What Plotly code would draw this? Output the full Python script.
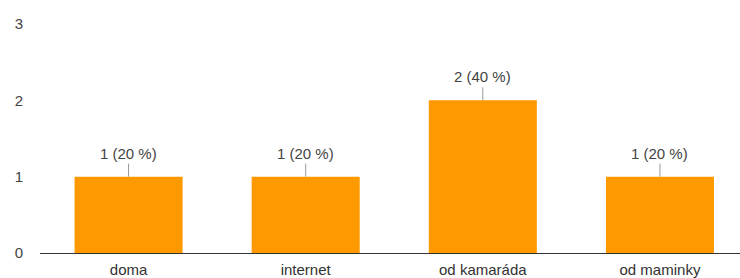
import plotly.graph_objects as go

categories = ["doma", "internet", "od kamaráda", "od maminky"]
counts = [1, 1, 2, 1]
percents = [20, 20, 40, 20]
y_ticks = [0, 1, 2, 3]

labels = [f"{c} ({p} %)" for c, p in zip(counts, percents)]

FONT = "Arial, Liberation Sans, sans-serif"

fig = go.Figure()
fig.add_trace(go.Bar(
    x=categories, y=counts, width=0.61,
    marker=dict(color="#ff9900", line=dict(width=0)),
    hoverinfo="skip",
))

for c, v, t in zip(categories, counts, labels):
    fig.add_annotation(
        x=c, y=v, xref="x", yref="y", text=t,
        showarrow=True, arrowhead=0, arrowwidth=1, arrowcolor="#999999",
        ax=0, ay=-13, standoff=0, startstandoff=0,
        font=dict(family=FONT, size=15, color="#444444"),
        yanchor="bottom",
    )

fig.update_layout(
    width=740, height=278,
    margin=dict(l=40, r=0, t=24, b=25),
    paper_bgcolor="white", plot_bgcolor="white",
    showlegend=False,
    font=dict(family=FONT, size=15, color="#444444"),
    xaxis=dict(
        range=[-0.5, 3.452], showgrid=False, zeroline=False,
        showline=True, linecolor="#333333", linewidth=1,
        ticks="", ticklabelstandoff=3,
        tickfont=dict(size=15, color="#333333"),
    ),
    yaxis=dict(
        range=[0, 3], tickvals=y_ticks, showgrid=False, zeroline=False,
        showline=False, ticks="", ticklabelstandoff=16,
        tickfont=dict(size=15, color="#444444"),
    ),
)

fig.write_html(
    "out.html",
    config={"displayModeBar": False},
    post_script="document.body.style.margin='0';document.body.style.overflow='hidden';",
)
